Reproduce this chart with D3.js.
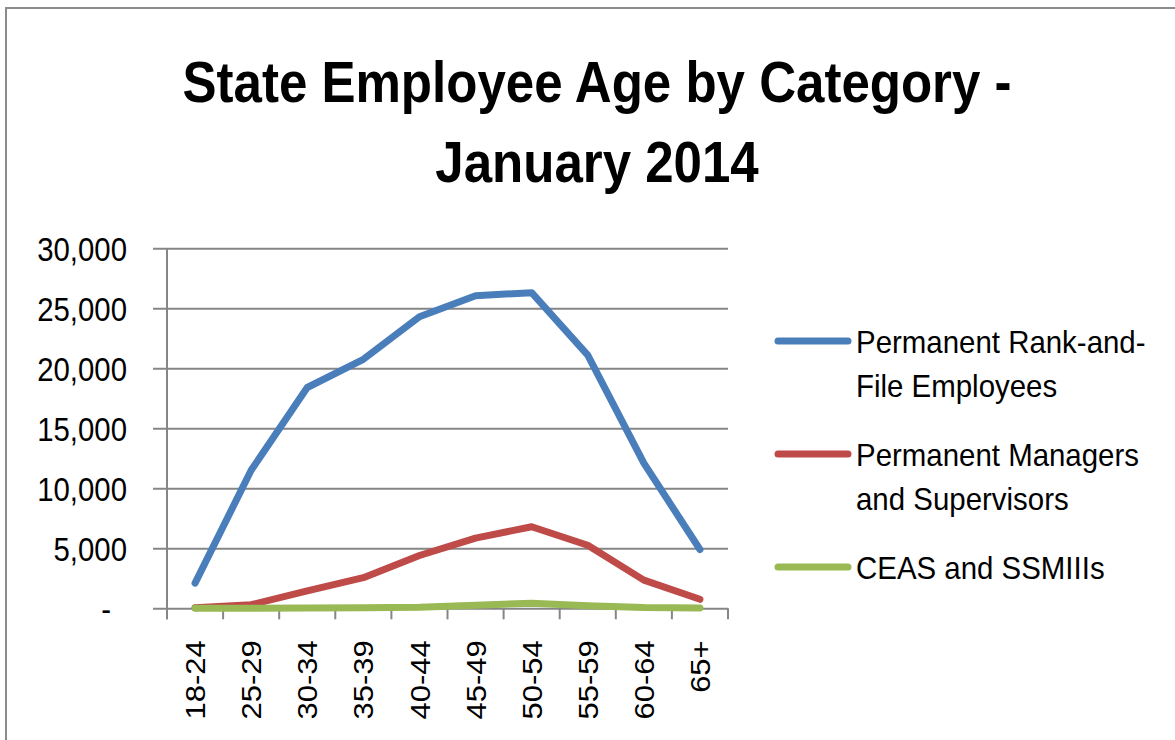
<!DOCTYPE html>
<html>
<head>
<meta charset="utf-8">
<script src="https://cdn.jsdelivr.net/npm/d3@7"></script>
<style>
  body { margin: 0; background: #fff; }
  svg { display: block; }
  .tick text { fill: #000; }
</style>
</head>
<body>
<div id="chart"></div>
<script>
// data
const categories = ["18-24", "25-29", "30-34", "35-39", "40-44", "45-49", "50-54", "55-59", "60-64", "65+"]
const rankAndFile = [2100, 11500, 18400, 20750, 24300, 26050, 26300, 21100, 12100, 4900]
const managers = [50, 300, 1450, 2550, 4400, 5850, 6800, 5250, 2350, 750]
const ceas = [0, 10, 30, 50, 90, 250, 420, 220, 60, 20]
const seriesNames = [["Permanent Rank-and-", "File Employees"], ["Permanent Managers", "and Supervisors"], ["CEAS and SSMIIIs"]]
const seriesColors = ["#4A7EBB", "#BE4B48", "#98B954"]
const yTicks = [0, 5000, 10000, 15000, 20000, 25000, 30000]
const titleLines = ["State Employee Age by Category -", "January 2014"]

const W = 1175, H = 740
const plot = {left: 167, right: 728, top: 248.3, bottom: 608.3}
const font = "'Liberation Sans', Arial, sans-serif"

const svg = d3.select("#chart")
  .append("svg")
  .attr("width", W)
  .attr("height", H)

// chart frame, runs off the right and bottom of the picture
svg.append("rect")
  .attr("x", 6).attr("y", 8)
  .attr("width", 1300).attr("height", 900)
  .attr("fill", "none")
  .attr("stroke", "#8c8c8c")
  .attr("stroke-width", 2)

// title, squeezed a little to look like the condensed original
svg.append("text")
  .attr("transform", "translate(597,0) scale(0.88,1)")
  .attr("text-anchor", "middle")
  .style("font-family", font)
  .style("font-weight", "bold")
  .style("font-size", "58px")
  .selectAll("tspan")
  .data(titleLines)
  .enter()
  .append("tspan")
  .attr("x", 0)
  .attr("y", (d, i) => 102 + i * 80)
  .text(d => d)

const x = d3.scaleBand()
  .domain(categories)
  .range([plot.left, plot.right])

const y = d3.scaleLinear()
  .domain([0, 30000])
  .range([plot.bottom, plot.top])

const fmt = d3.format(",")

// y axis with gridlines
const yAxis = svg.append("g")
  .attr("transform", `translate(${plot.left},0)`)
  .call(d3.axisLeft(y)
    .tickValues(yTicks)
    .tickSizeInner(-(plot.right - plot.left))
    .tickSizeOuter(0)
    .tickFormat(d => d === 0 ? "-" : fmt(d)))

yAxis.select(".domain").remove()
yAxis.selectAll(".tick line")
  .attr("x1", -14)
  .attr("stroke", "#868686")
  .attr("stroke-width", 2)
yAxis.selectAll(".tick text")
  .style("font-family", font)
  .style("font-size", "33px")
  .attr("x", 0)
  .attr("dy", "0.36em")
  .attr("transform", d => `translate(${d === 0 ? -56 : -40},0) scale(0.89,1)`)

// vertical axis line
svg.append("line")
  .attr("x1", plot.left).attr("x2", plot.left)
  .attr("y1", plot.top).attr("y2", plot.bottom + 11)
  .attr("stroke", "#868686")
  .attr("stroke-width", 2)

// x axis: Excel-style ticks between categories
const xAxis = svg.append("g")
  .attr("transform", `translate(0,${plot.bottom})`)
  .call(d3.axisBottom(x).tickSize(0))

xAxis.select(".domain").remove()
xAxis.selectAll(".tick text")
  .style("font-family", font)
  .style("font-size", "31px")
  .attr("text-anchor", "end")
  .attr("transform", "rotate(-90) scale(1,0.9)")
  .attr("x", -32)
  .attr("y", 0)
  .attr("dy", "0.36em")

const boundaries = categories.map(c => x(c)).concat([x.range()[1]])
svg.append("g")
  .selectAll("line")
  .data(boundaries)
  .enter()
  .append("line")
  .attr("x1", d => d).attr("x2", d => d)
  .attr("y1", plot.bottom).attr("y2", plot.bottom + 11)
  .attr("stroke", "#868686")
  .attr("stroke-width", 2)

// series lines
const line = d3.line()
  .x((d, i) => x(categories[i]) + x.bandwidth() / 2)
  .y(d => y(d))

const series = [rankAndFile, managers, ceas]
svg.append("g")
  .selectAll("path")
  .data(series)
  .enter()
  .append("path")
  .attr("d", line)
  .attr("fill", "none")
  .attr("stroke", (d, i) => seriesColors[i])
  .attr("stroke-width", 7)
  .attr("stroke-linejoin", "round")
  .attr("stroke-linecap", "round")

// legend
const legendY = [341, 454, 567]
const legend = svg.append("g")
  .selectAll("g")
  .data(seriesNames)
  .enter()
  .append("g")
  .attr("transform", (d, i) => `translate(778,${legendY[i]})`)

legend.append("line")
  .attr("x1", 0).attr("x2", 70)
  .attr("stroke", (d, i) => seriesColors[i])
  .attr("stroke-width", 7)
  .attr("stroke-linecap", "round")

legend.append("text")
  .attr("transform", "translate(78,0) scale(0.92,1)")
  .style("font-family", font)
  .style("font-size", "32px")
  .selectAll("tspan")
  .data(d => d)
  .enter()
  .append("tspan")
  .attr("x", 0)
  .attr("y", (d, i) => 12 + i * 44)
  .text(d => d)
</script>
</body>
</html>
